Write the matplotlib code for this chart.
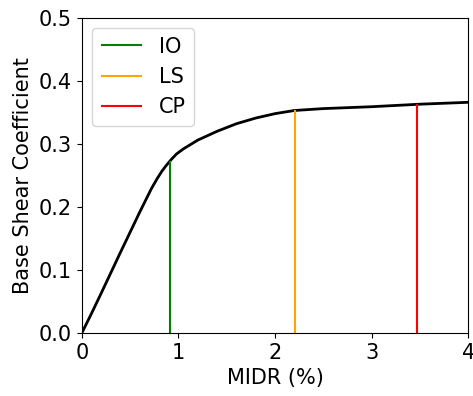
import matplotlib.pyplot as plt
import numpy as np

# pushover curve: drift (%) vs base shear coefficient
midr = [0.0, 0.10, 0.20, 0.40, 0.60, 0.72, 0.78, 0.83, 0.88, 0.93, 0.98,
        1.05, 1.20, 1.40, 1.60, 1.80, 2.00, 2.20, 2.50, 3.00, 3.50, 4.00]
v_coef = [0.0, 0.031, 0.063, 0.128, 0.192, 0.229, 0.245, 0.257, 0.267,
          0.276, 0.284, 0.292, 0.306, 0.320, 0.332, 0.341, 0.348, 0.353,
          0.356, 0.359, 0.363, 0.366]

# performance levels
levels = ['IO', 'LS', 'CP']
level_drift = [0.91, 2.21, 3.47]
level_colors = ['green', 'orange', 'red']

fig, ax = plt.subplots(figsize=(4.73, 3.96), dpi=100)
fig.subplots_adjust(left=0.173, right=0.99, bottom=0.159, top=0.955)

ax.plot(midr, v_coef, color='k', lw=2)
for name, d, c in zip(levels, level_drift, level_colors):
    ax.vlines(d, 0, np.interp(d, midr, v_coef), color=c, lw=1.5, label=name)

ax.set_xlim(0, 4)
ax.set_ylim(0, 0.5)
ax.set_xticks([0, 1, 2, 3, 4])
ax.set_xlabel('MIDR (%)', fontsize=15)
ax.set_ylabel('Base Shear Coefficient', fontsize=15)
ax.tick_params(labelsize=15)
ax.legend(fontsize=15, loc='upper left')

plt.savefig('out.png')
